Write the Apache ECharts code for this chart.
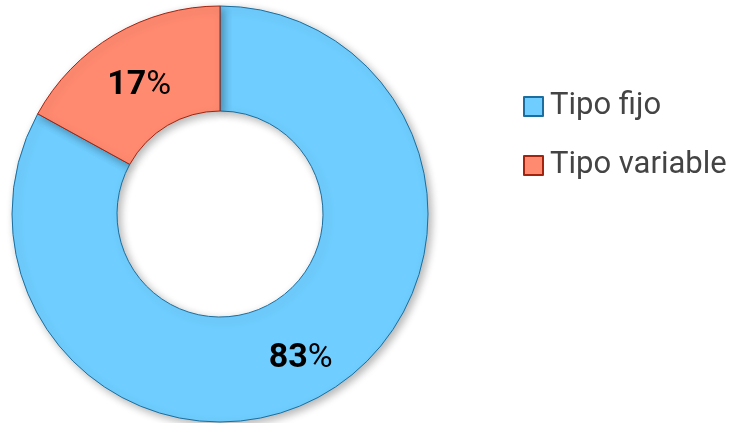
<!DOCTYPE html>
<html><head><meta charset="utf-8">
<script src="https://cdn.jsdelivr.net/npm/echarts@6/dist/echarts.min.js"></script>
<style>html,body{margin:0;padding:0;background:#fff}#c{width:738px;height:423px}</style>
</head><body><div id="c"></div>
<script>
const categories = ['Tipo fijo', 'Tipo variable'];
const values = [83, 17];
const fills = ['#6FCEFF', '#FF8A70'];
const borders = ['#1B6E9E', '#A3230F'];

const chart = echarts.init(document.getElementById('c'));
chart.setOption({
  animation: false,
  legend: {
    orient: 'vertical',
    left: 518, top: 86,
    itemWidth: 19, itemHeight: 19,
    itemGap: 28,
    icon: 'rect',
    textStyle: { fontFamily: 'Roboto', fontSize: 31, color: '#444', padding: [0, 0, 0, 2] },
    data: categories
  },
  series: [{
    type: 'pie',
    center: [220, 214],
    radius: [103, 208],
    startAngle: 90,
    clockwise: true,
    label: {
      show: true,
      position: 'inside',
      offset: [0, 8],
      formatter: p => '{n|' + p.value + '}{p|%}',
      rich: {
        n: { fontFamily: 'Roboto', fontWeight: 'bold', fontSize: 34, color: '#000' },
        p: { fontFamily: 'Roboto', fontSize: 34, color: '#000' }
      }
    },
    labelLine: { show: false },
    emphasis: { disabled: true },
    data: categories.map((c, i) => ({
      name: c, value: values[i],
      itemStyle: {
        color: fills[i], borderColor: borders[i], borderWidth: 1,
        shadowBlur: 8, shadowOffsetX: 3, shadowOffsetY: 3, shadowColor: 'rgba(0,0,0,0.3)'
      }
    }))
  }]
});
</script></body></html>
